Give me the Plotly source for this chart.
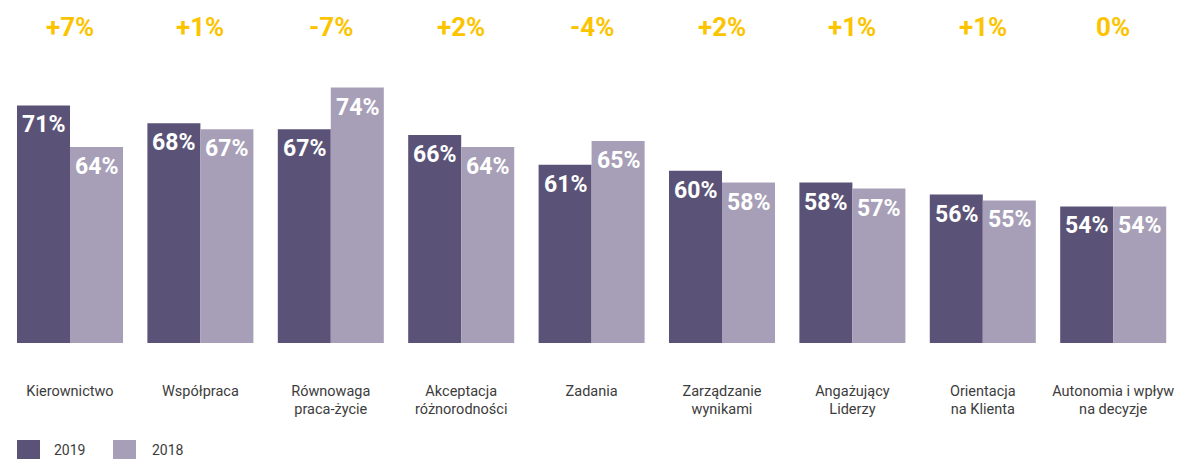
import plotly.graph_objects as go

categories = [
    "Kierownictwo", "Współpraca", "Równowaga<br>praca-życie",
    "Akceptacja<br>różnorodności", "Zadania", "Zarządzanie<br>wynikami",
    "Angażujący<br>Liderzy", "Orientacja<br>na Klienta", "Autonomia i wpływ<br>na decyzje",
]
values_2019 = [71, 68, 67, 66, 61, 60, 58, 56, 54]
values_2018 = [64, 67, 74, 64, 65, 58, 57, 55, 54]
series_names = ["2019", "2018"]

DARK = "#5a5377"
LIGHT = "#a79fb7"
YELLOW = "#fcc400"
TEXT = "#3c3c3c"
FONT = "Roboto"

# page has an 8px body margin; figure coordinates are page coordinates minus 8
OFF = 8
W, H = 1182 - OFF, 459 - OFF
ML, MR, MT = 0, 4, 0
plot_w = W - ML - MR
plot_h = 343 - OFF
MB = H - MT - plot_h
BARGAP = 0.187
STEP = 130.4          # px per category
FIRST_CENTER = 70 - OFF
x_lo = -(FIRST_CENTER - ML) / STEP
x_hi = x_lo + plot_w / STEP
Y0 = 31
PX_PER_UNIT = 5.94
y_top = Y0 + plot_h / PX_PER_UNIT

idx = list(range(len(categories)))
half = (1 - BARGAP) / 2

fig = go.Figure()
for name, vals, col in [(series_names[0], values_2019, DARK), (series_names[1], values_2018, LIGHT)]:
    fig.add_trace(go.Bar(
        x=idx, y=vals, name=name, marker=dict(color=col, line=dict(width=0)),
        showlegend=False, hoverinfo="skip",
    ))

annotations = []
for offs, vals in [(-half / 2, values_2019), (half / 2, values_2018)]:
    for i, v in enumerate(vals):
        annotations.append(dict(
            x=i + offs, y=v, xref="x", yref="y", text=f"{v}%", showarrow=False,
            yanchor="top", xanchor="center", yshift=-4,
            font=dict(family=FONT, size=23, color="white", weight="bold"),
        ))

def px_x(p):
    return (p - OFF - ML) / plot_w

def px_y(p):
    return (MT + plot_h - (p - OFF)) / plot_h

for i, (a, b) in enumerate(zip(values_2019, values_2018)):
    d = a - b
    txt = f"+{d}%" if d > 0 else (f"{d}%" if d < 0 else "0%")
    annotations.append(dict(
        x=i, y=px_y(27), xref="x", yref="paper", text=txt, showarrow=False,
        yanchor="middle", xanchor="center",
        font=dict(family=FONT, size=26, color=YELLOW, weight="bold"),
    ))

shapes = []
for (x0, x1, tx, name, col) in [(17, 40, 52, series_names[0], DARK), (113, 136, 150, series_names[1], LIGHT)]:
    shapes.append(dict(type="rect", xref="paper", yref="paper",
                       x0=px_x(x0), x1=px_x(x1), y0=px_y(470), y1=px_y(440),
                       fillcolor=col, line=dict(width=0), layer="above"))
    annotations.append(dict(
        x=px_x(tx), y=px_y(450), xref="paper", yref="paper", text=name, showarrow=False,
        xanchor="left", yanchor="middle",
        font=dict(family=FONT, size=14, color=TEXT),
    ))

fig.update_layout(
    width=W, height=H,
    margin=dict(l=ML, r=MR, t=MT, b=MB, pad=0),
    barmode="group", bargap=BARGAP, bargroupgap=0,
    plot_bgcolor="white", paper_bgcolor="white",
    annotations=annotations, shapes=shapes,
    xaxis=dict(
        range=[x_lo, x_hi], tickmode="array", tickvals=idx,
        ticktext=categories, showgrid=False, zeroline=False, showline=False,
        ticks="", ticklabelstandoff=37,
        tickfont=dict(family=FONT, size=14.5, color=TEXT),
    ),
    yaxis=dict(range=[Y0, y_top], visible=False, showgrid=False, zeroline=False),
)

fig.write_html("out.html")
